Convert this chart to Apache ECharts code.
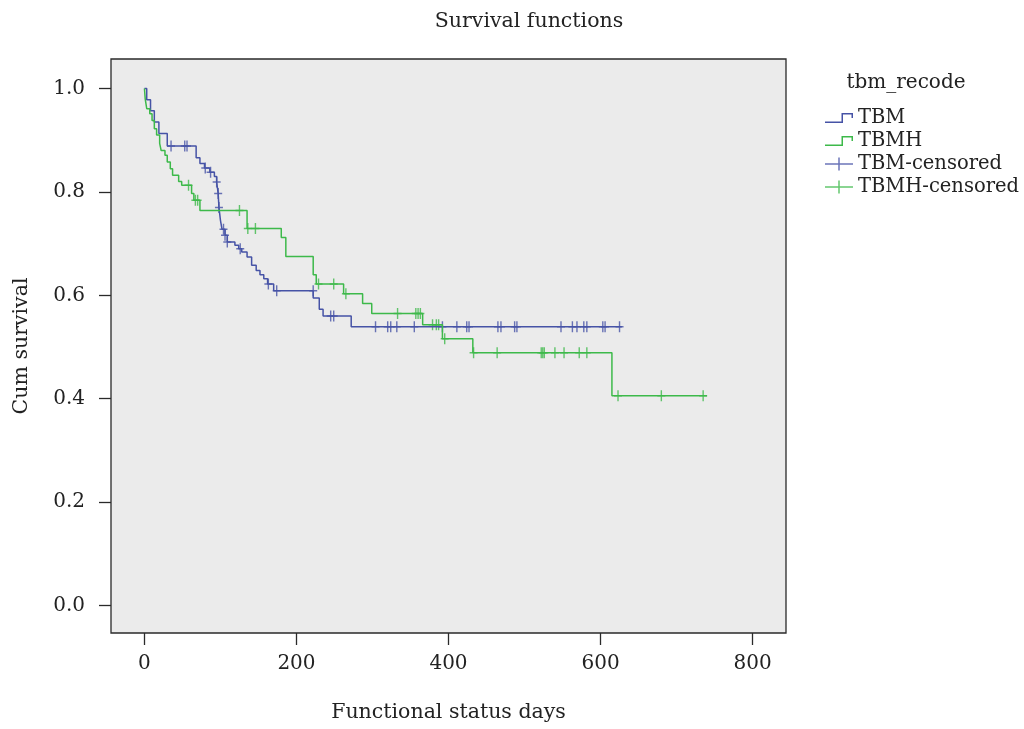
<!DOCTYPE html>
<html>
<head>
<meta charset="utf-8">
<title>Survival functions</title>
<script src="https://cdn.jsdelivr.net/npm/echarts@6/dist/echarts.min.js"></script>
<style>
    html, body { margin: 0; padding: 0; background: #ffffff; }
    #main { width: 1024px; height: 729px; }
</style>
</head>
<body>
<div id="main"></div>
<script>
// tick labels
var xTicks = [0, 200, 400, 600, 800];
var yTicks = [0, 0.2, 0.4, 0.6, 0.8, 1.0];

// TBM: Kaplan-Meier steps (day, cum survival)
var tbmDays = [0, 3, 8, 13, 19, 30, 68, 73, 79, 86, 92, 95, 97, 98, 100, 102, 106, 109, 119, 124, 128, 135, 141, 147, 152, 157, 162, 170, 222, 230, 235, 272, 628];
var tbmSurv = [1.000, 0.978, 0.957, 0.935, 0.913, 0.889, 0.866, 0.855, 0.846, 0.838, 0.830, 0.819, 0.797, 0.770, 0.745, 0.728, 0.716, 0.703, 0.697, 0.690, 0.684, 0.674, 0.658, 0.648, 0.640, 0.632, 0.622, 0.609, 0.595, 0.573, 0.560, 0.539, 0.539];

// TBMH: Kaplan-Meier steps
var tbmhDays = [0, 1, 3, 7, 10, 13, 16, 20, 22, 27, 30, 34, 37, 45, 49, 62, 65, 73, 135, 180, 186, 222, 226, 262, 287, 299, 366, 392, 432, 615, 740];
var tbmhSurv = [1.000, 0.980, 0.961, 0.951, 0.938, 0.922, 0.910, 0.894, 0.880, 0.871, 0.858, 0.845, 0.832, 0.820, 0.813, 0.797, 0.784, 0.764, 0.729, 0.712, 0.675, 0.640, 0.622, 0.603, 0.584, 0.565, 0.543, 0.516, 0.489, 0.406, 0.406];

// censored observations
var tbmCensDays = [35, 53, 56, 80, 87, 95, 97, 98, 104, 106, 109, 126, 163, 174, 222, 245, 249,
    304, 320, 324, 332, 355, 392, 411, 424, 427, 465, 469, 487, 490, 548, 563, 569, 578, 582, 603, 606, 625];
var tbmCensSurv = [0.889, 0.889, 0.889, 0.846, 0.838, 0.819, 0.797, 0.770, 0.728, 0.716, 0.703, 0.690, 0.622, 0.609, 0.609, 0.560, 0.560,
    0.539, 0.539, 0.539, 0.539, 0.539, 0.539, 0.539, 0.539, 0.539, 0.539, 0.539, 0.539, 0.539, 0.539, 0.539, 0.539, 0.539, 0.539, 0.539, 0.539, 0.539];

var tbmhCensDays = [58, 67, 70, 125, 136, 146, 229, 249, 265, 333, 357, 360, 363, 379, 384, 387, 395,
    433, 464, 522, 524, 526, 540, 552, 572, 582, 623, 680, 735];
var tbmhCensSurv = [0.813, 0.784, 0.784, 0.764, 0.729, 0.729, 0.622, 0.622, 0.603, 0.565, 0.565, 0.565, 0.565, 0.543, 0.543, 0.543, 0.516,
    0.489, 0.489, 0.489, 0.489, 0.489, 0.489, 0.489, 0.489, 0.489, 0.406, 0.406, 0.406];

function zip(a, b) {
    var out = [];
    for (var i = 0; i < a.length; i++) {
        out.push([a[i], b[i]]);
    }
    return out;
}

var BLUE = '#4653a6';
var GREEN = '#3db94a';
var FONT = 'DejaVu Serif';

var stepIcon = 'path://M0,8.5 L16.5,8.5 L16.5,0 L28,0 L28,5 L26.5,5 L26.5,1.5 L18,1.5 L18,10 L0,10 Z';
var censIcon = 'path://M0,5.75 L28,5.75 L28,7.25 L0,7.25 Z M13.25,0 L14.75,0 L14.75,13 L13.25,13 Z';
var plusMark = 'path://M0,4.75 L8,4.75 L8,6.25 L0,6.25 Z M3.3,0 L4.7,0 L4.7,11 L3.3,11 Z';

var chart = echarts.init(document.getElementById('main'));

var option = {
    backgroundColor: '#ffffff',
    animation: false,
    title: [
        {
            text: 'Survival functions',
            left: 524,
            top: 6,
            textAlign: 'center',
            textStyle: { fontFamily: FONT, fontSize: 20.5, fontWeight: 'normal', color: '#222' }
        },
        {
            text: 'tbm_recode',
            left: 901,
            top: 68,
            textAlign: 'center',
            textStyle: { fontFamily: FONT, fontSize: 20, fontWeight: 'normal', color: '#222' }
        }
    ],
    legend: {
        orient: 'vertical',
        left: 820,
        top: 103,
        itemWidth: 28,
        itemHeight: 13,
        itemGap: 3,
        textStyle: { fontFamily: FONT, fontSize: 19.5, color: '#222' },
        data: [
            { name: 'TBM', icon: stepIcon },
            { name: 'TBMH', icon: stepIcon },
            { name: 'TBM-censored', icon: censIcon },
            { name: 'TBMH-censored', icon: censIcon }
        ]
    },
    grid: {
        left: 111,
        right: 238,
        top: 59,
        bottom: 96,
        show: true,
        backgroundColor: '#ebebeb',
        borderColor: '#2a2a2a',
        borderWidth: 1.3
    },
    xAxis: {
        type: 'value',
        min: -44,
        max: 844,
        name: 'Functional status days',
        nameLocation: 'middle',
        nameGap: 69,
        nameTextStyle: { fontFamily: FONT, fontSize: 20.5, color: '#222' },
        axisLine: { show: false, onZero: false },
        axisTick: { show: true, inside: false, length: 12, customValues: xTicks, lineStyle: { color: '#2a2a2a', width: 1.3 } },
        axisLabel: { customValues: xTicks, margin: 21, fontFamily: FONT, fontSize: 20, color: '#222' },
        splitLine: { show: false }
    },
    yAxis: {
        type: 'value',
        min: -0.053,
        max: 1.057,
        name: 'Cum survival',
        nameLocation: 'middle',
        nameGap: 79,
        nameTextStyle: { fontFamily: FONT, fontSize: 20.5, color: '#222' },
        axisLine: { show: false, onZero: false },
        axisTick: { show: true, inside: false, length: 12, customValues: yTicks, lineStyle: { color: '#2a2a2a', width: 1.3 } },
        axisLabel: {
            customValues: yTicks,
            margin: 26,
            fontFamily: FONT,
            fontSize: 20,
            color: '#222',
            formatter: function (v) { return v.toFixed(1); }
        },
        splitLine: { show: false }
    },
    series: [
        {
            name: 'TBM',
            type: 'line',
            step: 'end',
            showSymbol: false,
            color: BLUE,
            lineStyle: { color: BLUE, width: 1.5 },
            data: zip(tbmDays, tbmSurv)
        },
        {
            name: 'TBMH',
            type: 'line',
            step: 'end',
            showSymbol: false,
            color: GREEN,
            lineStyle: { color: GREEN, width: 1.5 },
            data: zip(tbmhDays, tbmhSurv)
        },
        {
            name: 'TBM-censored',
            type: 'scatter',
            symbol: plusMark,
            symbolSize: [8, 11],
            color: BLUE,
            itemStyle: { color: BLUE },
            data: zip(tbmCensDays, tbmCensSurv)
        },
        {
            name: 'TBMH-censored',
            type: 'scatter',
            symbol: plusMark,
            symbolSize: [8, 11],
            color: GREEN,
            itemStyle: { color: GREEN },
            data: zip(tbmhCensDays, tbmhCensSurv)
        }
    ]
};

chart.setOption(option);
</script>
</body>
</html>
